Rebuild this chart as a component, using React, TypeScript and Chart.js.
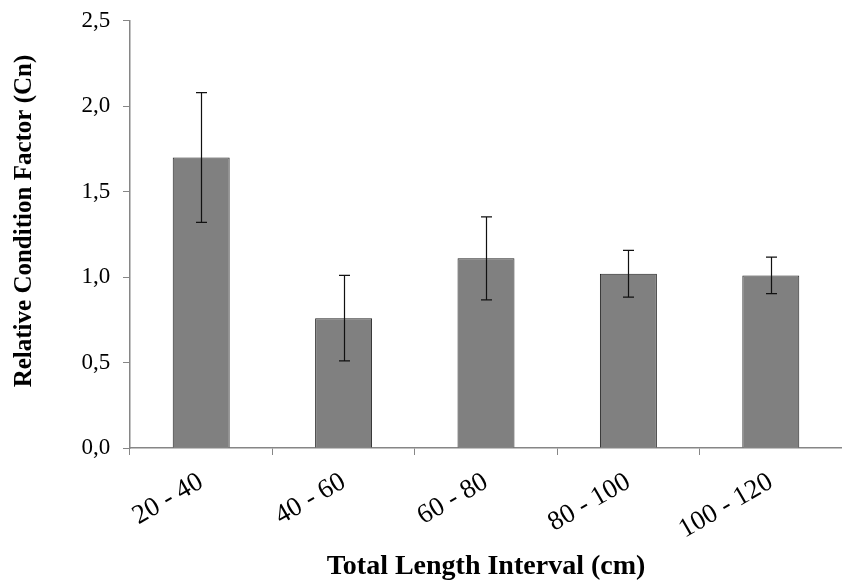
import React, { useEffect, useRef } from "react";
import { Chart, registerables } from "chart.js";

Chart.register(...registerables);

const categories = ["20 - 40", "40 - 60", "60 - 80", "80 - 100", "100 - 120"];
const values = [1.7, 0.76, 1.11, 1.02, 1.01];
const errors = [0.38, 0.25, 0.243, 0.137, 0.107];
const yTicks = [0, 0.5, 1.0, 1.5, 2.0, 2.5];
const xTitle = "Total Length Interval (cm)";
const yTitle = "Relative Condition Factor (Cn)";

const FONT = "'Liberation Serif', 'Times New Roman', serif";

const errorBarPlugin = {
  id: "errorBars",
  afterDatasetsDraw(chart: any) {
    const { ctx } = chart;
    const meta = chart.getDatasetMeta(0);
    const y = chart.scales.y;
    ctx.save();
    ctx.strokeStyle = "#111";
    ctx.lineWidth = 1.2;
    meta.data.forEach((bar: any, i: number) => {
      const x = Math.round(bar.x) + 0.5;
      const top = y.getPixelForValue(values[i] + errors[i]);
      const bot = y.getPixelForValue(values[i] - errors[i]);
      const cap = 5.5;
      ctx.beginPath();
      ctx.moveTo(x, top);
      ctx.lineTo(x, bot);
      ctx.moveTo(x - cap, top);
      ctx.lineTo(x + cap, top);
      ctx.moveTo(x - cap, bot);
      ctx.lineTo(x + cap, bot);
      ctx.stroke();
    });
    ctx.restore();
  },
};

const yTitlePlugin = {
  id: "yTitle",
  afterDraw(chart: any) {
    const { ctx } = chart;
    ctx.save();
    ctx.translate(25, 221);
    ctx.rotate(-Math.PI / 2);
    ctx.font = `bold 25px ${FONT}`;
    ctx.fillStyle = "#000";
    ctx.textAlign = "center";
    ctx.textBaseline = "middle";
    ctx.fillText(yTitle, 0, 0);
    ctx.restore();
  },
};

export default function App() {
  const ref = useRef<HTMLCanvasElement>(null);
  useEffect(() => {
    if (!ref.current) return;
    const chart = new Chart(ref.current, {
      type: "bar",
      data: {
        labels: categories,
        datasets: [
          {
            data: values,
            backgroundColor: "#808080",
            borderColor: "#222",
            borderWidth: 1,
            barPercentage: 0.4,
            categoryPercentage: 1,
          },
        ],
      },
      options: {
        responsive: false,
        animation: false,
        devicePixelRatio: 1,
        layout: { padding: { top: 0, right: 0, left: 0, bottom: 0 } },
        plugins: { legend: { display: false }, tooltip: { enabled: false } },
        scales: {
          x: {
            offset: true,
            grid: {
              offset: true,
              drawOnChartArea: false,
              drawTicks: true,
              tickLength: 7,
              color: "#868686",
            },
            border: { color: "#868686", width: 1.5 },
            ticks: {
              color: "#000",
              font: { family: FONT, size: 27 },
              minRotation: 30,
              maxRotation: 30,
              padding: 11,
            },
            title: {
              display: true,
              text: xTitle,
              color: "#000",
              font: { family: FONT, size: 28, weight: "bold" },
              padding: { top: 0, bottom: -1 },
            },
            afterFit: (s: any) => {
              s.height = 135;
            },
          },
          y: {
            min: 0,
            max: 2.5,
            afterBuildTicks: (s: any) => {
              s.ticks = yTicks.map((v) => ({ value: v }));
            },
            grid: {
              drawOnChartArea: false,
              drawTicks: true,
              tickLength: 7,
              color: "#868686",
            },
            border: { color: "#868686", width: 1.5 },
            ticks: {
              color: "#000",
              font: { family: FONT, size: 23 },
              padding: 7,
              callback: (v: any) => Number(v).toFixed(1).replace(".", ",") + " ",
            },
            afterFit: (s: any) => {
              s.width = 130;
            },
          },
        },
      },
      plugins: [errorBarPlugin, yTitlePlugin],
    });
    return () => chart.destroy();
  }, []);
  return (
    <div style={{ position: "absolute", left: 0, top: 0, width: 842, height: 583, background: "#fff" }}>
      <canvas ref={ref} width={842} height={583} />
    </div>
  );
}
